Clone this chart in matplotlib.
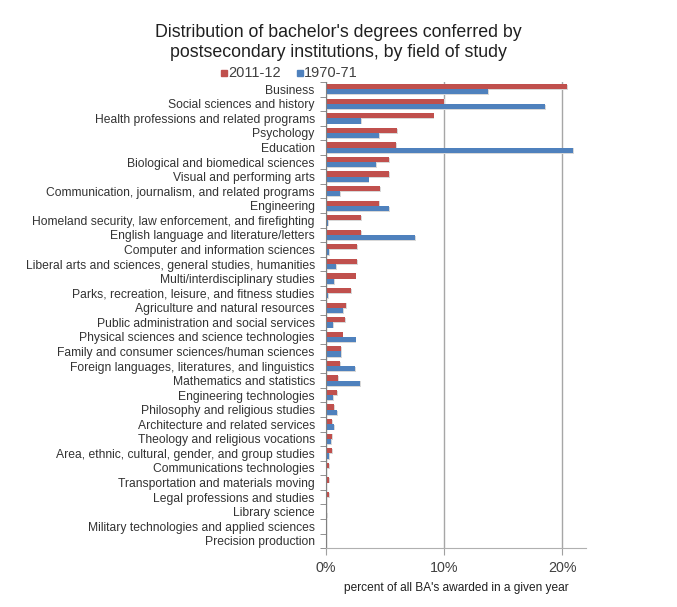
import numpy as np
import matplotlib.pyplot as plt
from matplotlib.patches import Rectangle

plt.rcParams['font.family'] = ['Liberation Sans', 'DejaVu Sans']

# поля и доли (в процентах)
fields = [
    "Business",
    "Social sciences and history",
    "Health professions and related programs",
    "Psychology",
    "Education",
    "Biological and biomedical sciences",
    "Visual and performing arts",
    "Communication, journalism, and related programs",
    "Engineering",
    "Homeland security, law enforcement, and firefighting",
    "English language and literature/letters",
    "Computer and information sciences",
    "Liberal arts and sciences, general studies, humanities",
    "Multi/interdisciplinary studies",
    "Parks, recreation, leisure, and fitness studies",
    "Agriculture and natural resources",
    "Public administration and social services",
    "Physical sciences and science technologies",
    "Family and consumer sciences/human sciences",
    "Foreign languages, literatures, and linguistics",
    "Mathematics and statistics",
    "Engineering technologies",
    "Philosophy and religious studies",
    "Architecture and related services",
    "Theology and religious vocations",
    "Area, ethnic, cultural, gender, and group studies",
    "Communications technologies",
    "Transportation and materials moving",
    "Legal professions and studies",
    "Library science",
    "Military technologies and applied sciences",
    "Precision production",
]

y2011 = [20.4, 10.0, 9.1, 6.0, 5.9, 5.3, 5.3, 4.6, 4.5, 3.0, 3.0, 2.6, 2.6, 2.5,
         2.1, 1.7, 1.6, 1.4, 1.3, 1.15, 1.0, 0.93, 0.65, 0.5, 0.48, 0.48, 0.23,
         0.23, 0.23, 0.02, 0.01, 0.01]
y1970 = [13.7, 18.5, 3.0, 4.5, 20.9, 4.2, 3.6, 1.15, 5.3, 0.2, 7.55, 0.23, 0.85,
         0.7, 0.14, 1.46, 0.62, 2.5, 1.3, 2.45, 2.9, 0.59, 0.93, 0.65, 0.39,
         0.25, 0.0, 0.0, 0.0, 0.1, 0.0, 0.0]

red = '#C0504D'
blue = '#4F81BD'
txt = '#333333'

fig = plt.figure(figsize=(6.77, 6.07), dpi=100)
ax = fig.add_axes([0.4815, 0.097, 0.384, 0.768])

pos = np.arange(len(fields))
h = 0.36
# лёгкая тень под барами
ax.barh(pos - h / 2 + 0.06, y2011, height=h, left=0.08, color='#d8d8d8', zorder=1)
ax.barh(pos + h / 2 + 0.06, y1970, height=h, left=0.08, color='#d8d8d8', zorder=1)
ax.barh(pos - h / 2, y2011, height=h, color=red, zorder=2)
ax.barh(pos + h / 2, y1970, height=h, color=blue, zorder=2)

ax.set_xlim(0, 22)
ax.set_ylim(len(fields) - 0.5, -0.5)

ax.set_yticks(pos)
ax.set_yticklabels(fields, fontsize=8.7, color=txt)
ax.tick_params(axis='y', which='major', length=0, pad=8)
ax.set_yticks(np.arange(len(fields) + 1) - 0.5, minor=True)
ax.tick_params(axis='y', which='minor', length=4, color='#808080', direction='out')

ax.set_xticks([0, 10, 20])
ax.set_xticklabels(['0%', '10%', '20%'], fontsize=10.3, color='#404040')
ax.tick_params(axis='x', length=5, color='#a0a0a0', pad=4)
ax.grid(axis='x', color='#a6a6a6', linewidth=1)
ax.set_axisbelow(True)

for s in ['top', 'right']:
    ax.spines[s].set_visible(False)
ax.spines['left'].set_color('#808080')
ax.spines['bottom'].set_color('#b0b0b0')

ax.set_xlabel("percent of all BA's awarded in a given year", fontsize=8.6, color='#202020', labelpad=5)

fig.text(0.5, 0.93, "Distribution of bachelor's degrees conferred by\npostsecondary institutions, by field of study",
         ha='center', va='center', fontsize=12.8, color='#202020', linespacing=1.2)

# легенда
fig.patches.append(Rectangle((0.326, 0.875), 0.009, 0.010, color=red, transform=fig.transFigure))
fig.text(0.337, 0.880, "2011-12", fontsize=10.5, color='#404040', va='center')
fig.patches.append(Rectangle((0.438, 0.875), 0.009, 0.010, color=blue, transform=fig.transFigure))
fig.text(0.449, 0.880, "1970-71", fontsize=10.5, color='#404040', va='center')

fig.savefig('out.png', dpi=100)
